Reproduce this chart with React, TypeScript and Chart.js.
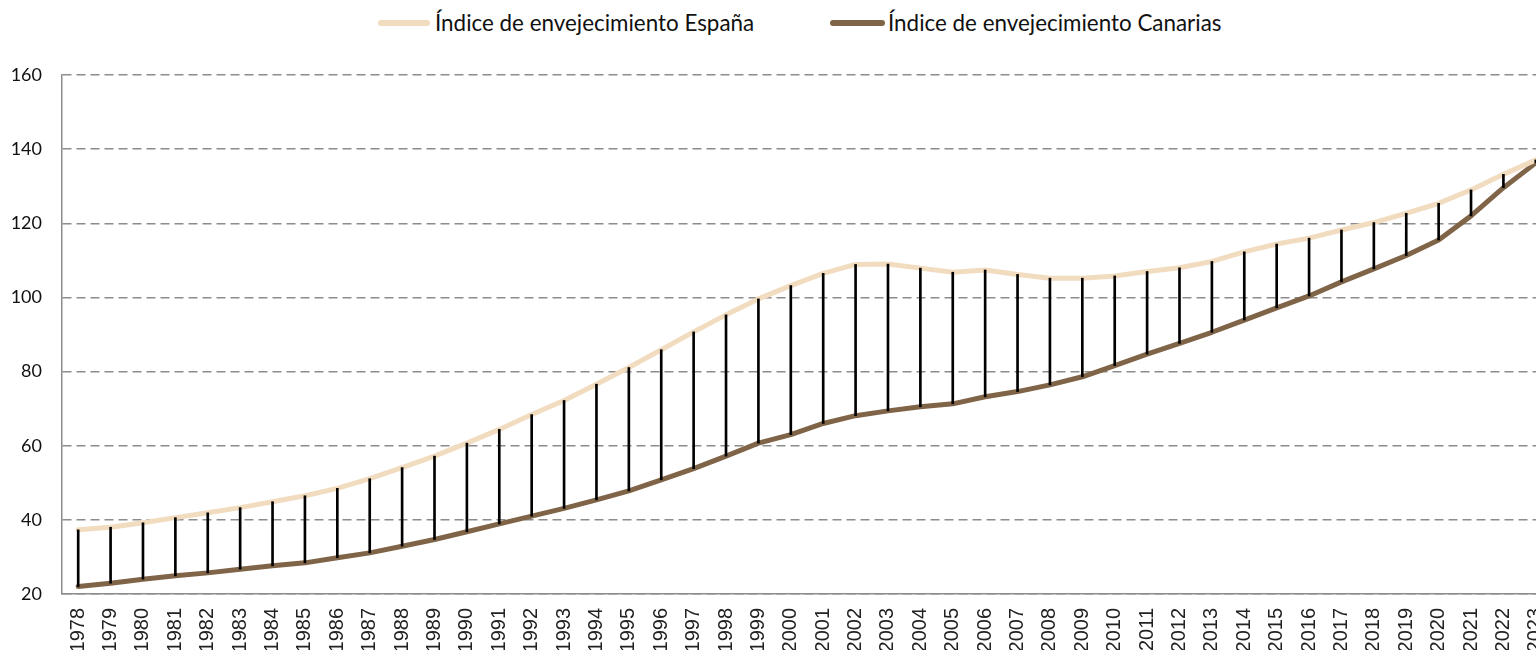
import React, { useEffect, useRef } from "react";
import { Chart, registerables } from "chart.js";

Chart.register(...registerables);

const years = [
  "1978", "1979", "1980", "1981", "1982", "1983", "1984", "1985", "1986", "1987",
  "1988", "1989", "1990", "1991", "1992", "1993", "1994", "1995", "1996", "1997",
  "1998", "1999", "2000", "2001", "2002", "2003", "2004", "2005", "2006", "2007",
  "2008", "2009", "2010", "2011", "2012", "2013", "2014", "2015", "2016", "2017",
  "2018", "2019", "2020", "2021", "2022", "2023",
];

const espana = [
  37.3, 38.0, 39.2, 40.6, 41.9, 43.3, 44.9, 46.5, 48.5, 51.1,
  54.1, 57.2, 60.7, 64.4, 68.4, 72.2, 76.6, 81.1, 85.9, 90.7,
  95.3, 99.6, 103.2, 106.5, 108.9, 109.0, 107.9, 106.8, 107.4, 106.2,
  105.2, 105.2, 105.8, 107.0, 108.0, 109.7, 112.3, 114.4, 116.0, 118.2,
  120.2, 122.7, 125.4, 129.0, 133.2, 137.1,
];

const canarias = [
  22.0, 22.9, 24.0, 24.9, 25.7, 26.7, 27.6, 28.4, 29.8, 31.1,
  32.9, 34.7, 36.8, 38.9, 41.0, 43.1, 45.4, 47.8, 50.8, 53.8,
  57.2, 60.7, 63.0, 66.0, 68.1, 69.4, 70.5, 71.3, 73.2, 74.6,
  76.4, 78.6, 81.6, 84.7, 87.6, 90.6, 93.9, 97.2, 100.4, 104.2,
  107.7, 111.3, 115.5, 122.0, 129.6, 136.3,
];

const seriesNames = ["Índice de envejecimiento España", "Índice de envejecimiento Canarias"];
const seriesColors = ["#F2DCC0", "#7F6447"];

const yMin = 20;
const yMax = 160;
const yStep = 20;

export default function App() {
  const canvasRef = useRef<HTMLCanvasElement | null>(null);

  useEffect(() => {
    if (!canvasRef.current) return;
    const highLow = canarias.map((c, i) => [c, espana[i]]);
    const chart = new Chart(canvasRef.current, {
      type: "bar",
      data: {
        labels: years,
        datasets: [
          {
            type: "bar",
            label: "hl",
            data: highLow as any,
            backgroundColor: "#000000",
            borderWidth: 0,
            barThickness: 2,
            order: 0,
          } as any,
          {
            type: "line",
            label: seriesNames[0],
            data: espana,
            borderColor: seriesColors[0],
            backgroundColor: seriesColors[0],
            borderWidth: 5,
            pointRadius: 0,
            tension: 0,
            borderCapStyle: "round",
            borderJoinStyle: "round",
            order: 1,
          },
          {
            type: "line",
            label: seriesNames[1],
            data: canarias,
            borderColor: seriesColors[1],
            backgroundColor: seriesColors[1],
            borderWidth: 5,
            pointRadius: 0,
            tension: 0,
            borderCapStyle: "round",
            borderJoinStyle: "round",
            order: 2,
          },
        ],
      },
      options: {
        responsive: false,
        animation: false,
        layout: { padding: { top: 75, left: 0, right: 0, bottom: 0 } },
        plugins: {
          legend: { display: false },
          tooltip: { enabled: false },
        },
        scales: {
          x: {
            offset: true,
            grid: { display: false, drawTicks: false },
            border: { display: true, color: "#8C8C8C", width: 1.5 },
            ticks: {
              autoSkip: false,
              minRotation: 90,
              maxRotation: 90,
              padding: 14,
              color: "#222222",
              font: { family: "'Liberation Sans', Arial, sans-serif", size: 20 },
            },
            afterFit: (scale: any) => {
              scale.height = 56;
              scale.paddingLeft = 0;
              scale.paddingRight = 0;
            },
          },
          y: {
            min: yMin,
            max: yMax,
            ticks: {
              stepSize: yStep,
              padding: 20,
              color: "#111111",
              font: { family: "Lato, sans-serif", size: 18 },
            },
            grid: {
              color: "#8C8C8C",
              lineWidth: 1.5,
              drawTicks: false,
            },
            border: { display: true, color: "#8C8C8C", width: 1.5, dash: [9, 5] },
            afterFit: (scale: any) => {
              scale.width = 62;
            },
          },
        },
      },
    });
    return () => chart.destroy();
  }, []);

  const legendText: React.CSSProperties = {
    position: "absolute",
    top: 9,
    lineHeight: "28px",
    fontFamily: "Lato, sans-serif",
    fontSize: 22.4,
    color: "#111",
    whiteSpace: "nowrap",
  };
  const legendBox = (left: number, width: number, color: string): React.CSSProperties => ({
    position: "absolute",
    left,
    top: 20,
    width,
    height: 6,
    borderRadius: 3,
    background: color,
  });

  return (
    <div
      style={{
        position: "fixed",
        left: 0,
        top: 0,
        width: 1536,
        height: 650,
        overflow: "hidden",
        background: "#fff",
      }}
    >
      <div style={legendBox(378, 52, seriesColors[0])} />
      <div style={{ ...legendText, left: 435 }}>{seriesNames[0]}</div>
      <div style={legendBox(830, 55, seriesColors[1])} />
      <div style={{ ...legendText, left: 888 }}>{seriesNames[1]}</div>
      <canvas
        ref={canvasRef}
        width={1552}
        height={650}
        style={{ position: "absolute", left: 0, top: 0, width: 1552, height: 650 }}
      />
    </div>
  );
}
